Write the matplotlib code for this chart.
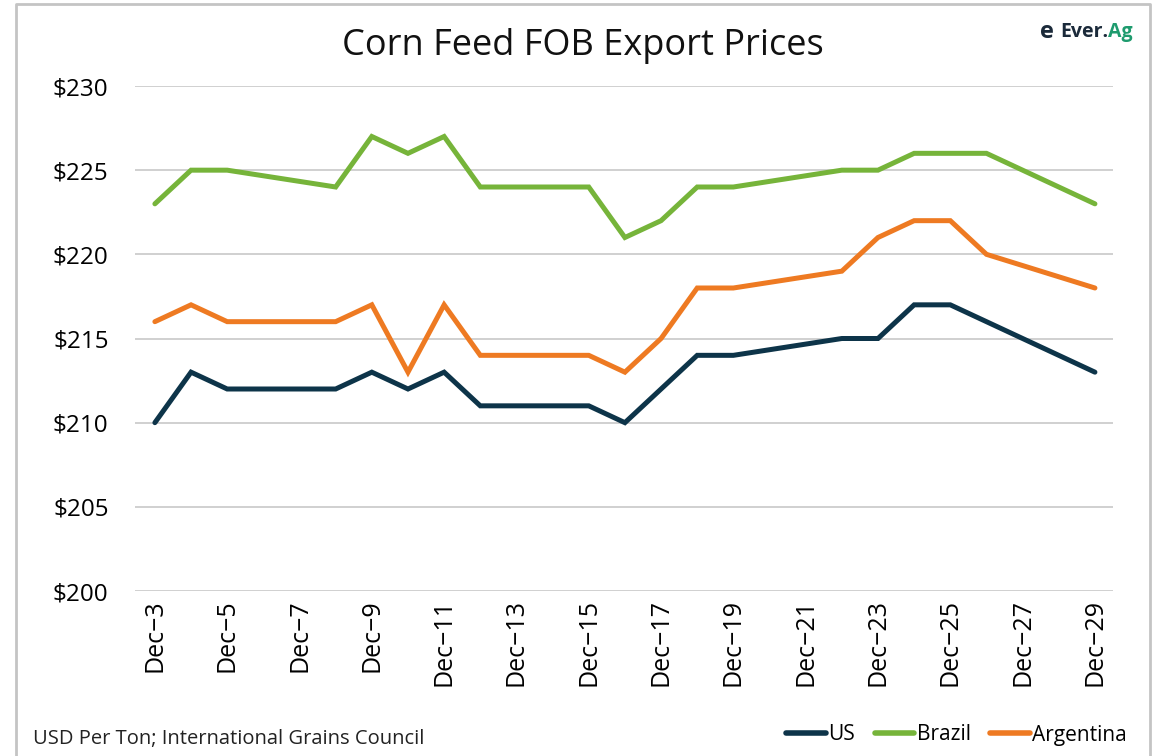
import matplotlib
matplotlib.use("Agg")
import matplotlib.pyplot as plt
from matplotlib.lines import Line2D

# ---- data ----
days = [3, 4, 5, 8, 9, 10, 11, 12, 15, 16, 17, 18, 19, 22, 23, 24, 25, 26, 29]
us = [210, 213, 212, 212, 213, 212, 213, 211, 211, 210, 212, 214, 214, 215, 215, 217, 217, 216, 213]
brazil = [223, 225, 225, 224, 227, 226, 227, 224, 224, 221, 222, 224, 224, 225, 225, 226, 226, 226, 223]
argentina = [216, 217, 216, 216, 217, 213, 217, 214, 214, 213, 215, 218, 218, 219, 221, 222, 222, 220, 218]
tick_days = list(range(3, 30, 2))
tick_labels = [f"Dec\u2212{d}" for d in tick_days]
y_ticks = [200, 205, 210, 215, 220, 225, 230]
y_labels = [f"${v}" for v in y_ticks]

series = [("US", us, "#0D3449"), ("Brazil", brazil, "#76B43A"), ("Argentina", argentina, "#EE7A22")]

W, H = 1158, 756
fig = plt.figure(figsize=(W / 100, H / 100), dpi=100)
fig.patch.set_facecolor("white")

ax = fig.add_axes([135 / W, 1 - 591 / H, (1113 - 135) / W, (591 - 86) / H])
for name, vals, col in series:
    ax.plot(days, vals, color=col, lw=3.6, solid_capstyle="round", solid_joinstyle="miter", zorder=3)

ax.set_xlim(2.45, 29.5)
ax.set_ylim(200, 230)
ax.set_yticks(y_ticks)
ax.set_yticklabels(y_labels, fontsize=17.5, family="Open Sans")
ax.set_xticks(tick_days)
ax.set_xticklabels(tick_labels, rotation=90, fontsize=18, family="Open Sans")
ax.tick_params(axis="y", length=0, pad=19)
ax.tick_params(axis="x", length=0, pad=6)
ax.grid(axis="y", color="#C8C8C8", lw=1.2, zorder=0)
for s in ax.spines.values():
    s.set_visible(False)

fig.text(583 / W, 1 - 46 / H, "Corn Feed FOB Export Prices", ha="center", va="center",
         fontsize=26, family="Open Sans", color="#111111")
fig.text(33 / W, 1 - 739 / H, "USD Per Ton; International Grains Council", ha="left", va="center",
         fontsize=14.5, family="Open Sans", color="#222222")

# logo
fig.text(1060 / W, 1 - 32 / H, "Ever.", ha="left", va="center", fontsize=14,
         family="Open Sans", fontweight="bold", color="#1B2A3A")
fig.text(1108 / W, 1 - 32 / H, "Ag", ha="left", va="center", fontsize=14,
         family="Open Sans", fontweight="bold", color="#1E9B6E")
fig.text(1047 / W, 1 - 32 / H, "e", ha="center", va="center", fontsize=17,
         family="Open Sans", fontweight="bold", color="#1B2A3A")

# legend
handles = [Line2D([0], [0], color=c, lw=4, solid_capstyle="round") for _, _, c in series]
leg = fig.legend(handles, [n for n, _, _ in series], loc="center right",
                 bbox_to_anchor=(1146 / W, 1 - 735 / H), ncol=3, frameon=False,
                 handlelength=1.9, handletextpad=0.12, columnspacing=0.95,
                 prop={"family": "Open Sans", "size": 15})

# border
fig.add_artist(Line2D([16 / W, 16 / W, 1150 / W, 1150 / W], [0, 1 - 4 / H, 1 - 4 / H, 0],
                      transform=fig.transFigure, color="#C4C4C4", lw=2))

fig.savefig("out.png", dpi=100, facecolor="white")
